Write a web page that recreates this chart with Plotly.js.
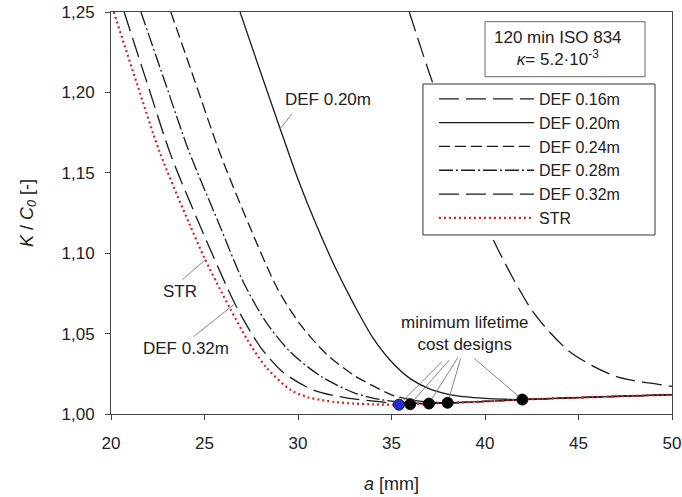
<!DOCTYPE html>
<html><head><meta charset="utf-8">
<script src="https://cdn.plot.ly/plotly-3.0.1.min.js"></script>
<style>html,body{margin:0;padding:0;background:#fff}#chart{width:682px;height:497px}</style>
</head><body><div id="chart"></div>
<script>
// ---- data ----
const seriesNames = ['DEF 0.16m', 'DEF 0.20m', 'DEF 0.24m', 'DEF 0.28m', 'DEF 0.32m', 'STR'];

const aDEF016 = [35.95, 37.2, 38.9, 40.5, 42.6, 44.4, 45.8, 47.0, 47.9, 50];
const kDEF016 = [1.250, 1.206, 1.153, 1.107, 1.063, 1.040, 1.0296, 1.0234, 1.0209, 1.0172];

const aDEF020 = [26.9, 28.0, 29.0, 30.0, 31.0, 32.0, 33.0, 34.0, 35.0, 36.0, 37.0, 38.0, 39.0, 40.0, 41.0, 42.0, 45, 50];
const kDEF020 = [1.250, 1.2125, 1.179, 1.146, 1.117, 1.091, 1.068, 1.0475, 1.0325, 1.0220, 1.0158, 1.0124, 1.0106, 1.0097, 1.0092, 1.0090, 1.0102, 1.0120];

const aDEF024 = [23.2, 24.5, 25.8, 27.4, 28.9, 30.1, 31.5, 33.0, 34.1, 35.1, 36.5, 38.0, 40, 42, 45, 50];
const kDEF024 = [1.250, 1.2065, 1.163, 1.117, 1.078, 1.0560, 1.0375, 1.0240, 1.0170, 1.0115, 1.0080, 1.0070, 1.0078, 1.0090, 1.0102, 1.0120];

const aDEF028 = [21.6, 22.9, 24.15, 25.75, 27.1, 28.3, 29.6, 31.2, 33.0, 34.4, 35.6, 37.0, 40, 42, 45, 50];
const kDEF028 = [1.250, 1.206, 1.164, 1.119, 1.0815, 1.0570, 1.0385, 1.0236, 1.0132, 1.0090, 1.0073, 1.0065, 1.0078, 1.0090, 1.0102, 1.0120];

const aDEF032 = [20.7, 21.9, 23.2, 24.8, 26.2, 26.9, 28.0, 29.2, 30.8, 32.6, 34.2, 35.2, 36.0, 37, 40, 42, 45, 50];
const kDEF032 = [1.250, 1.207, 1.161, 1.116, 1.079, 1.0625, 1.0415, 1.026, 1.015, 1.010, 1.0078, 1.0066, 1.0061, 1.0065, 1.0078, 1.0090, 1.0102, 1.0120];

const aSTR = [20.15, 21.4, 22.6, 24.2, 25.0, 25.9, 26.4, 27.3, 28.3, 29.6, 30.5, 31.2, 32.0, 33.0, 34.0, 35.4, 37, 40, 42, 45, 50];
const kSTR = [1.250, 1.205, 1.163, 1.118, 1.097, 1.076, 1.065, 1.046, 1.029, 1.015, 1.0105, 1.0088, 1.0074, 1.0065, 1.0060, 1.0058, 1.0065, 1.0078, 1.0090, 1.0102, 1.0120];

// minimum lifetime cost designs (STR, DEF 0.32, 0.28, 0.24, 0.20)
const aMin = [35.4, 36.0, 37.0, 38.0, 42.0];
const kMin = [1.0058, 1.0061, 1.0065, 1.0070, 1.0090];

const xTicks = [20, 25, 30, 35, 40, 45, 50];
const yTicks = [1.00, 1.05, 1.10, 1.15, 1.20, 1.25];

// ---- styles ----
const FONT = 'Liberation Sans, Arial, sans-serif';
const TXT = '#222';
const dashes = ['20px,7px', 'solid', '11px,5px', '14px,3px,2px,3px', '20px,7px', '2px,3px'];
const xs = [aDEF016, aDEF020, aDEF024, aDEF028, aDEF032, aSTR];
const ys = [kDEF016, kDEF020, kDEF024, kDEF028, kDEF032, kSTR];

const traces = seriesNames.map((n, i) => ({
  type: 'scatter', mode: 'lines', name: n, x: xs[i], y: ys[i],
  line: {
    color: i === 5 ? 'rgb(215,35,35)' : '#1a1a1a',
    width: i === 5 ? 2.2 : 1.3,
    dash: dashes[i], shape: 'spline', smoothing: 0.8
  }
}));
traces.push({
  type: 'scatter', mode: 'markers', name: 'minimum lifetime cost designs', showlegend: false,
  x: aMin, y: kMin,
  marker: {size: 11, color: ['#1f2be0', '#000', '#000', '#000', '#000'], line: {color: '#111', width: 1}}
});

// leader lines: anchored at a data point, tail given as a screen-pixel offset
function leader(xa, ya, dx, dy, so) {
  const L = Math.hypot(dx, dy);
  return {
    type: 'line', xref: 'x', yref: 'y', xsizemode: 'pixel', ysizemode: 'pixel',
    xanchor: xa, yanchor: ya,
    x0: dx / L * so, y0: -dy / L * so, x1: dx, y1: -dy,
    line: {color: '#777', width: 0.9}, layer: 'above'
  };
}
const offs = [[43, -43], [39, -44], [29, -46], [13, -44], [-48, -41]];
const leaders = aMin.map((a, i) => leader(a, kMin[i], offs[i][0], offs[i][1], 5.5));
leaders.push(leader(29.05, 1.1775, 12, -15, 0));
leaders.push(leader(25.05, 1.096, -23, 20, 0));
leaders.push(leader(26.56, 1.068, -40, 32, 0));

const annotations = [
  {x: 38.95, y: 1.050, xref: 'x', yref: 'y', text: 'minimum lifetime<br>cost designs', showarrow: false,
   font: {family: FONT, size: 17, color: TXT}},
  {x: 31.61, y: 1.1955, xref: 'x', yref: 'y', text: 'DEF 0.20m', showarrow: false,
   font: {family: FONT, size: 17, color: TXT}},
  {x: 23.71, y: 1.0762, xref: 'x', yref: 'y', text: 'STR', showarrow: false,
   font: {family: FONT, size: 17, color: TXT}},
  {x: 24.0, y: 1.0406, xref: 'x', yref: 'y', text: 'DEF 0.32m', showarrow: false,
   font: {family: FONT, size: 17, color: TXT}},
  {x: 0.7968, y: 0.9104, xref: 'paper', yref: 'paper', xanchor: 'center', yanchor: 'middle',
   text: '120 min ISO 834<br><i>κ</i>= 5.2·10<sup>-3</sup>', showarrow: false,
   font: {family: FONT, size: 17, color: TXT}}
];

const axisCommon = {
  showline: true, mirror: true, linecolor: '#444', linewidth: 1,
  showgrid: false, zeroline: false, ticks: 'outside', ticklen: 5, tickwidth: 1, tickcolor: '#444',
  tickfont: {family: FONT, size: 17, color: TXT}
};

const layout = {
  width: 682, height: 497,
  margin: {l: 111, r: 10, t: 12, b: 83},
  paper_bgcolor: '#fff', plot_bgcolor: '#fff',
  separators: ', ',
  font: {family: FONT, size: 17, color: TXT},
  xaxis: Object.assign({}, axisCommon, {
    range: [20, 50], tickvals: xTicks, ticklabelstandoff: 9,
    title: {text: '<i>a</i> [mm]', font: {family: FONT, size: 18, color: TXT}, standoff: 24}
  }),
  yaxis: Object.assign({}, axisCommon, {
    range: [1.0, 1.25], tickvals: yTicks, tickformat: '.2f', ticklabelstandoff: 7,
    title: {text: '<i>K</i> / <i>C<sub>0</sub></i> [-]', font: {family: FONT, size: 18, color: TXT}, standoff: 23}
  }),
  showlegend: true,
  legend: {
    x: 0.5757, y: 0.826, xanchor: 'left', yanchor: 'top',
    bgcolor: 'rgba(0,0,0,0)', borderwidth: 0, itemwidth: 95,
    font: {family: FONT, size: 16, color: TXT}
  },
  shapes: [
    {type: 'rect', xref: 'paper', yref: 'paper', x0: 0.5561, x1: 0.9697, y0: 0.4453, y1: 0.8209,
     fillcolor: '#fff', line: {color: '#333', width: 1}, layer: 'above'},
    {type: 'rect', xref: 'paper', yref: 'paper', x0: 0.6667, x1: 0.9519, y0: 0.839, y1: 0.9759,
     fillcolor: '#fff', line: {color: '#666', width: 1}, layer: 'above'}
  ].concat(leaders),
  annotations: annotations
};

Plotly.newPlot('chart', traces, layout, {staticPlot: true, displayModeBar: false});
</script></body></html>
